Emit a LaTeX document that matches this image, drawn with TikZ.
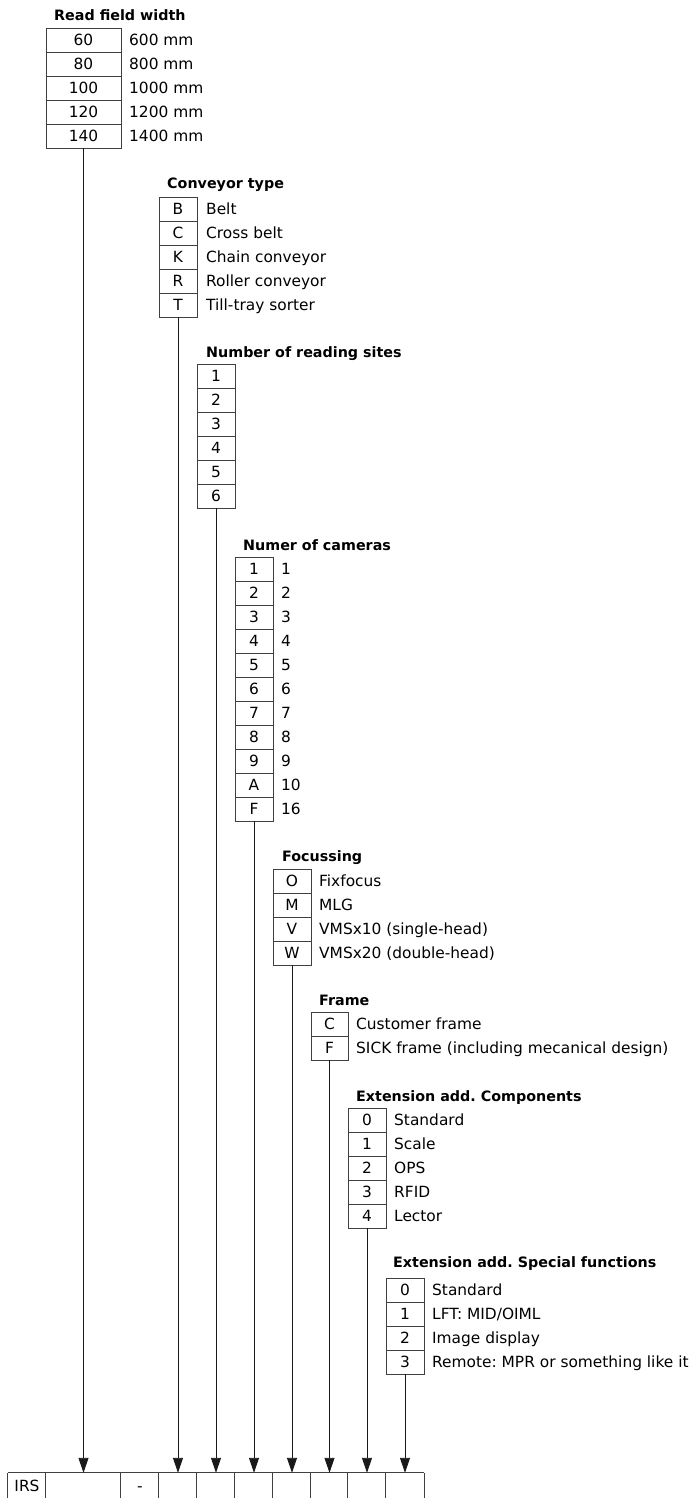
\documentclass[tikz,border=0pt]{standalone}
\usepackage{fontspec}
\setmainfont{DejaVu Sans}
\usetikzlibrary{arrows.meta}
\frenchspacing
\begin{document}
\begin{tikzpicture}[x=1pt,y=-1pt,
  boxline/.style={draw=black!75,line width=0.9pt},
  cell/.style={boxline,inner sep=0pt,minimum width=38pt,minimum height=24pt,
    text height=11pt,text depth=0pt,font=\fontsize{15.4}{18}\selectfont},
  lbl/.style={anchor=west,inner sep=0pt,text height=11pt,text depth=0pt,
    font=\fontsize{15.4}{18}\selectfont},
  ttl/.style={anchor=base west,inner sep=0pt,font=\fontsize{14.3}{17}\selectfont\bfseries},
  bcell/.style={inner sep=0pt,minimum width=38pt,minimum height=25pt,
    text height=11pt,text depth=0pt,font=\fontsize{15.4}{18}\selectfont},
  conn/.style={draw=black!90,line width=0.9pt,-{Triangle[length=15pt,width=10pt]}}]
\useasboundingbox (0,0) rectangle (695,1498);

% Table 1: Read field width
\node[ttl] (t1) at (54,21) {Read field width};
\foreach \v/\t [count=\i] in {60/600 mm,80/800 mm,100/1000 mm,120/1200 mm,140/1400 mm}{
  \node[cell,minimum width=75pt] (a\i) at (83.5,{16+24*\i}) {\v};
  \node[lbl] (al\i) at (129,{16+24*\i}) {\t};
}

% Table 2: Conveyor type
\node[ttl] (t2) at (167,189) {Conveyor type};
\foreach \v/\t [count=\i] in {B/Belt,C/Cross belt,K/Chain conveyor,R/Roller conveyor,T/Till-tray sorter}{
  \node[cell] (b\i) at (178,{185+24*\i}) {\v};
  \node[lbl] (bl\i) at (206,{185+24*\i}) {\t};
}

% Table 3: Number of reading sites
\node[ttl] (t3) at (206,357) {Number of reading sites};
\foreach \v [count=\i] in {1,2,3,4,5,6}{
  \node[cell] (r\i) at (216,{352+24*\i}) {\v};
}

% Table 4: Numer of cameras
\node[ttl] (t4) at (243,550) {Numer of cameras};
\foreach \v/\t [count=\i] in {1/1,2/2,3/3,4/4,5/5,6/6,7/7,8/8,9/9,A/10,F/16}{
  \node[cell] (m\i) at (254,{545+24*\i}) {\v};
  \node[lbl] (ml\i) at (281,{545+24*\i}) {\t};
}

% Table 5: Focussing
\node[ttl] (t5) at (282,861) {Focussing};
\foreach \v/\t [count=\i] in {O/Fixfocus,M/MLG,V/VMSx10 (single-head),W/VMSx20 (double-head)}{
  \node[cell] (f\i) at (292,{857+24*\i}) {\v};
  \node[lbl] (fl\i) at (319,{857+24*\i}) {\t};
}

% Table 6: Frame
\node[ttl] (t6) at (319,1005) {Frame};
\foreach \v/\t [count=\i] in {C/Customer frame,F/SICK frame (including mecanical design)}{
  \node[cell,minimum width=37pt] (g\i) at (329.5,{1000+24*\i}) {\v};
  \node[lbl] (gl\i) at (356,{1000+24*\i}) {\t};
}

% Table 7: Extension add. Components
\node[ttl] (t7) at (356,1101) {Extension add. Components};
\foreach \v/\t [count=\i] in {0/Standard,1/Scale,2/OPS,3/RFID,4/Lector}{
  \node[cell] (e\i) at (367,{1096+24*\i}) {\v};
  \node[lbl] (el\i) at (394,{1096+24*\i}) {\t};
}

% Table 8: Extension add. Special functions
\node[ttl] (t8) at (393,1267) {Extension add. Special functions};
\foreach \v/\t [count=\i] in {0/{Standard},1/{LFT: MID/OIML},2/{Image display},3/{Remote: MPR or something like it}}{
  \node[cell] (s\i) at (405,{1266+24*\i}) {\v};
  \node[lbl] (sl\i) at (432,{1266+24*\i}) {\t};
}

% Bottom row
\node[bcell] (c0) at (27,1485.5) {IRS};
\node[bcell,minimum width=75pt] (c1) at (83.5,1485.5) {};
\node[bcell] (c2) at (140,1485.5) {-};
\node[bcell] (c3) at (178,1485.5) {};
\node[bcell] (c4) at (216,1485.5) {};
\node[bcell] (c5) at (254,1485.5) {};
\node[bcell] (c6) at (292,1485.5) {};
\node[bcell,minimum width=37pt] (c7) at (329.5,1485.5) {};
\node[bcell] (c8) at (367,1485.5) {};
\node[bcell] (c9) at (405,1485.5) {};
\draw[boxline] (c0.north west) -- (c9.north east);
\foreach \k in {0,...,9}{\draw[boxline] (c\k.north west) -- (c\k.south west);}
\draw[boxline] (c9.north east) -- (c9.south east);

% Connectors
\draw[conn] (a5.south) -- (c1.north);
\draw[conn] (b5.south) -- (c3.north);
\draw[conn] (r6.south) -- (c4.north);
\draw[conn] (m11.south) -- (c5.north);
\draw[conn] (f4.south) -- (c6.north);
\draw[conn] (g2.south) -- (c7.north);
\draw[conn] (e5.south) -- (c8.north);
\draw[conn] (s4.south) -- (c9.north);
\end{tikzpicture}
\end{document}
